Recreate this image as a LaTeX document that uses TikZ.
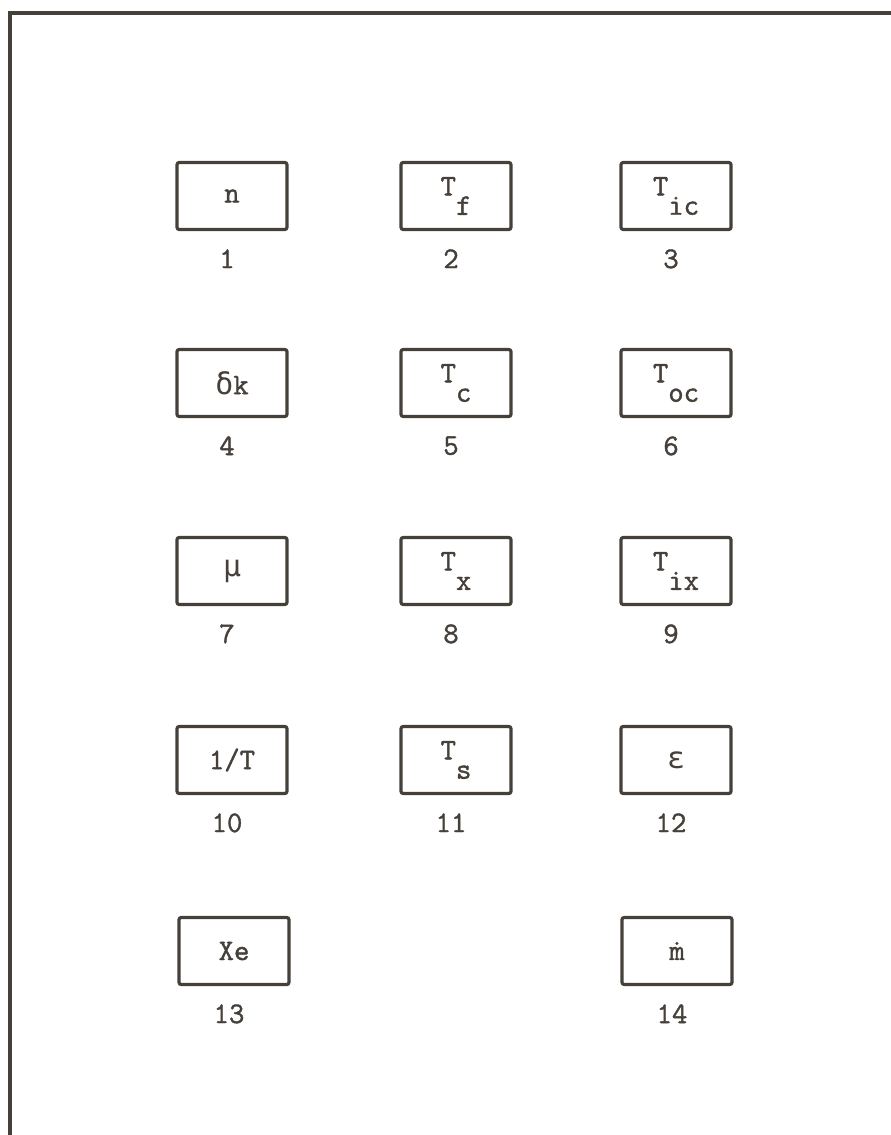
\documentclass[tikz,border=0pt]{standalone}
\usepackage{fontspec}
\newfontfamily\typefont{Latin Modern Mono}[FakeBold=1.3]
\newfontfamily\grkfont{DejaVu Sans Mono}
\usetikzlibrary{positioning}
\definecolor{ink}{RGB}{70,64,58}
\newcommand{\lowsub}[1]{\raisebox{-0.65em}{#1}}

\begin{document}
\begin{tikzpicture}[x=0.02cm, y=-0.02cm,
    every node/.style={font=\typefont\fontsize{17}{20}\selectfont, text=ink},
    vbox/.style={draw=ink, line width=1.8pt, rounded corners=1.2pt, minimum width=2.2cm, minimum height=1.34cm, inner sep=0pt},
    num/.style={inner sep=0pt, xshift=-0.1cm}]
\useasboundingbox (0,0) rectangle (891,1135);
% frame, open to the right and bottom
\coordinate (fbl) at (10,1135);
\coordinate (ftl) at (10,13);
\coordinate (ftr) at (891,13);
\draw[ink, line width=1.8pt] (fbl) -- (ftl) -- (ftr);
% variable boxes with their numbers
\foreach \i/\x/\y/\txt in {1/232/196/n, 2/456/196/{T\lowsub{f}}, 3/676/196/{T\lowsub{ic}},
    4/232/383/{{\grkfont δ}k}, 5/456/383/{T\lowsub{c}}, 6/676/383/{T\lowsub{oc}},
    7/232/571/{\grkfont μ}, 8/456/571/{T\lowsub{x}}, 9/676/571/{T\lowsub{ix}},
    10/232/760/{1/T}, 11/456/760/{T\lowsub{s}}, 12/676/760/{\grkfont ε},
    13/234/951/Xe, 14/677/951/{\.{m}}} {
    \node[vbox] (b\i) at (\x,\y) {\txt};
    \node[num, below=0.36cm of b\i] (l\i) {\i};
}
\end{tikzpicture}
\end{document}
